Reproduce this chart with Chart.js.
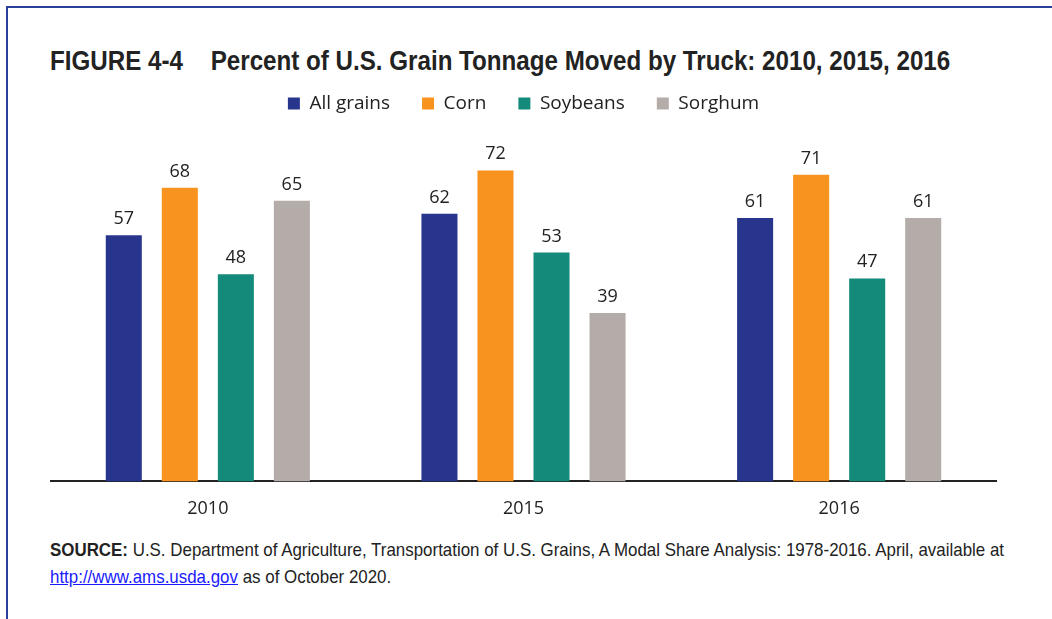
<!DOCTYPE html>
<html>
<head>
<meta charset="utf-8">
<script src="https://cdn.jsdelivr.net/npm/chart.js@4.4.1/dist/chart.umd.min.js"></script>
<style>
  html, body { margin: 0; padding: 0; background: #fff; }
  body { width: 1052px; height: 619px; position: relative; overflow: hidden; }
  .frame-top { position: absolute; left: 6px; top: 6px; right: 0; height: 2px; background: #2b3f99; }
  .frame-left { position: absolute; left: 6px; top: 6px; bottom: 0; width: 2px; background: #2b3f99; }
  h1 {
    position: absolute; left: 50px; top: 46px; margin: 0;
    font-family: "Liberation Sans", Arial, sans-serif;
    font-weight: bold; font-size: 27px; color: #222; white-space: nowrap;
    transform: scaleX(0.895); transform-origin: 0 0;
  }
  h1 .gap { display: inline-block; width: 31px; }
  .source {
    position: absolute; left: 50px; top: 536px; margin: 0;
    font-family: "Liberation Sans", Arial, sans-serif;
    font-size: 19px; line-height: 27px; color: #222; white-space: nowrap;
    transform: scaleX(0.89); transform-origin: 0 0;
  }
  .source b { font-weight: bold; }
  .source a { color: #1a1aff; text-decoration: underline; }
  #wrap { position: absolute; left: 50px; top: 62px; width: 947px; height: 467px; }
</style>
</head>
<body>
<div class="frame-top"></div>
<div class="frame-left"></div>
<h1>FIGURE 4-4<span class="gap"></span>Percent of U.S. Grain Tonnage Moved by Truck: 2010, 2015, 2016</h1>
<div id="wrap"><canvas id="chart"></canvas></div>
<p class="source"><b>SOURCE:</b> U.S. Department of Agriculture, Transportation of U.S. Grains, A Modal Share Analysis: 1978-2016. April, available at<br><a href="http://www.ams.usda.gov">http://www.ams.usda.gov</a> as of October 2020.</p>

<script>
// Years shown on the x axis
const years = ['2010', '2015', '2016'];

// Percent of tonnage moved by truck, per grain
const allGrains = [57, 62, 61];
const corn = [68, 72, 71];
const soybeans = [48, 53, 47];
const sorghum = [65, 39, 61];

const seriesNames = ['All grains', 'Corn', 'Soybeans', 'Sorghum'];
const seriesColors = ['#27358c', '#f7931e', '#148a7b', '#b4aca8'];

const labelFont = '"Open Sans", "Noto Sans", sans-serif';

// Writes each bar's value just above it
const valueLabels = {
  id: 'valueLabels',
  afterDatasetsDraw(chart) {
    const ctx = chart.ctx;
    ctx.save();
    ctx.font = '18px ' + labelFont;
    ctx.fillStyle = '#222';
    ctx.textAlign = 'center';
    ctx.textBaseline = 'alphabetic';
    chart.data.datasets.forEach((ds, i) => {
      chart.getDatasetMeta(i).data.forEach((bar, j) => {
        ctx.fillText(String(ds.data[j]), bar.x, bar.y - 11);
      });
    });
    ctx.restore();
  }
};

const seriesValues = [allGrains, corn, soybeans, sorghum];

new Chart(document.getElementById('chart'), {
  type: 'bar',
  data: {
    labels: years,
    datasets: seriesNames.map((name, i) => ({
      label: name,
      data: seriesValues[i],
      backgroundColor: seriesColors[i],
      borderWidth: 0,
      categoryPercentage: 0.71,
      barPercentage: 0.643
    }))
  },
  options: {
    responsive: true,
    maintainAspectRatio: false,
    animation: false,
    layout: { padding: 0 },
    plugins: {
      legend: {
        position: 'top',
        labels: {
          boxWidth: 12,
          boxHeight: 12,
          padding: 32,
          color: '#222',
          font: { family: labelFont, size: 19 }
        }
      },
      tooltip: { enabled: false }
    },
    scales: {
      x: {
        grid: { display: false },
        border: { display: true, color: '#222', width: 2 },
        ticks: {
          color: '#222',
          padding: 9,
          font: { family: labelFont, size: 18 }
        }
      },
      y: {
        display: false,
        min: 0,
        max: 83
      }
    }
  },
  plugins: [valueLabels]
});
</script>
</body>
</html>
